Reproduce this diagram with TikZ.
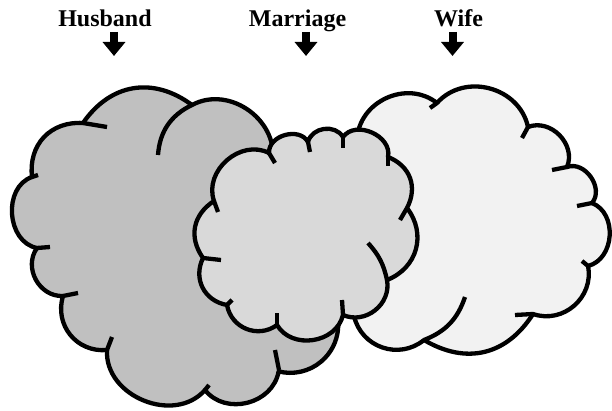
\documentclass[tikz,border=0pt]{standalone}
\usepackage{fontspec}
\setmainfont{Liberation Serif}
\usetikzlibrary{arrows.meta,positioning}
\definecolor{HusbandGray}{RGB}{192,192,192}
\definecolor{MarriageGray}{RGB}{217,217,217}
\definecolor{WifeGray}{RGB}{242,242,242}
\tikzset{
  cloudline/.style={draw=black,line width=4.3pt,line join=round},
  puff/.style={bend left=#1,looseness=1.12},
  puffend/.style={draw=black,line width=4.3pt},
  titletext/.style={font=\bfseries\fontsize{24}{28}\selectfont,anchor=base},
  downarrow/.style={line width=8pt,-{Triangle[width=22pt,length=14pt]}}
}

\begin{document}
\begin{tikzpicture}[x=1pt,y=-1pt]
  \useasboundingbox (0,0) rectangle (612,411);
  % titles and arrows
  \node[titletext] (husband) at (105,26.5) {Husband};
  \node[titletext] (marriage) at (297.5,26.5) {Marriage};
  \node[titletext] (wife) at (458.5,26.5) {Wife};
  \coordinate (h1) at (114,32);   \coordinate (h2) at (114,56);
  \coordinate (m1) at (306,32);   \coordinate (m2) at (306,56);
  \coordinate (w1) at (452.5,32); \coordinate (w2) at (452.5,56);
  \draw[downarrow] (h1) -- (h2);
  \draw[downarrow] (m1) -- (m2);
  \draw[downarrow] (w1) -- (w2);

  % husband cloud
  \path[cloudline,fill=HusbandGray]
    (107,350) to[puff=56] (63,296) to[puff=64] (37,248) to[puff=75] (32,177)
    to[puff=50] (83,123) to[puff=46] (192,105) to[puff=65] (272,165)
    -- (327,294) arc[start angle=-40,end angle=104,radius=48]
    to[puff=66] (205,390) to[puff=71] (107,350) -- cycle;
  \draw[puffend] (107,350) -- (112,337);
  \draw[puffend] (63,296) -- (78,293);
  \draw[puffend] (37,248) -- (50,247);
  \draw[puffend] (32,177) -- (38,175);
  \draw[puffend] (83,123) -- (107,127);
  \draw[puffend] (192,105) to[bend right=30] (158,155);
  \draw[puffend] (279,370) -- (275,350);
  \draw[puffend] (205,390) -- (209,385);

  % wife cloud
  \path[cloudline,fill=WifeGray]
    (357,140) to[puff=63] (437,103) to[puff=63] (528,127) to[puff=67] (567,167)
    to[puff=75] (592,203) to[puff=72] (588,266) to[puff=60] (533,314)
    to[puff=44] (424,340) to[puff=58] (354,316) -- (365,300) -- (365,150) -- cycle;
  \draw[puffend] (437,103) -- (430,108);
  \draw[puffend] (528,127) -- (522,138);
  \draw[puffend] (567,167) -- (552,170);
  \draw[puffend] (592,203) -- (577,206);
  \draw[puffend] (588,266) -- (582,261);
  \draw[puffend] (533,314) -- (515,315);
  \draw[puffend] (424,340) to[bend right=25] (465,297);

  % marriage cloud
  \path[cloudline,fill=MarriageGray]
    (214,201) to[puff=68] (269,153) to[puff=77] (308,142) to[puff=67] (343,137)
    to[puff=78] (388,157) to[puff=48] (407,208) to[puff=53] (387,280)
    to[puff=62] (343,315) to[puff=68] (277,325) to[puff=58] (227,305)
    to[puff=53] (203,258) to[puff=46] (214,201) -- cycle;
  \draw[puffend] (214,201) -- (218,212);
  \draw[puffend] (269,153) -- (275,163);
  \draw[puffend] (308,142) -- (310,152);
  \draw[puffend] (343,137) -- (343,148);
  \draw[puffend] (388,157) -- (388,166);
  \draw[puffend] (407,208) -- (400,220);
  \draw[puffend] (387,280) to[bend right=15] (368,243);
  \draw[puffend] (343,315) -- (342,300);
  \draw[puffend] (277,325) -- (277,313);
  \draw[puffend] (227,305) -- (232,300);
  \draw[puffend] (203,258) -- (221,260);
\end{tikzpicture}
\end{document}
